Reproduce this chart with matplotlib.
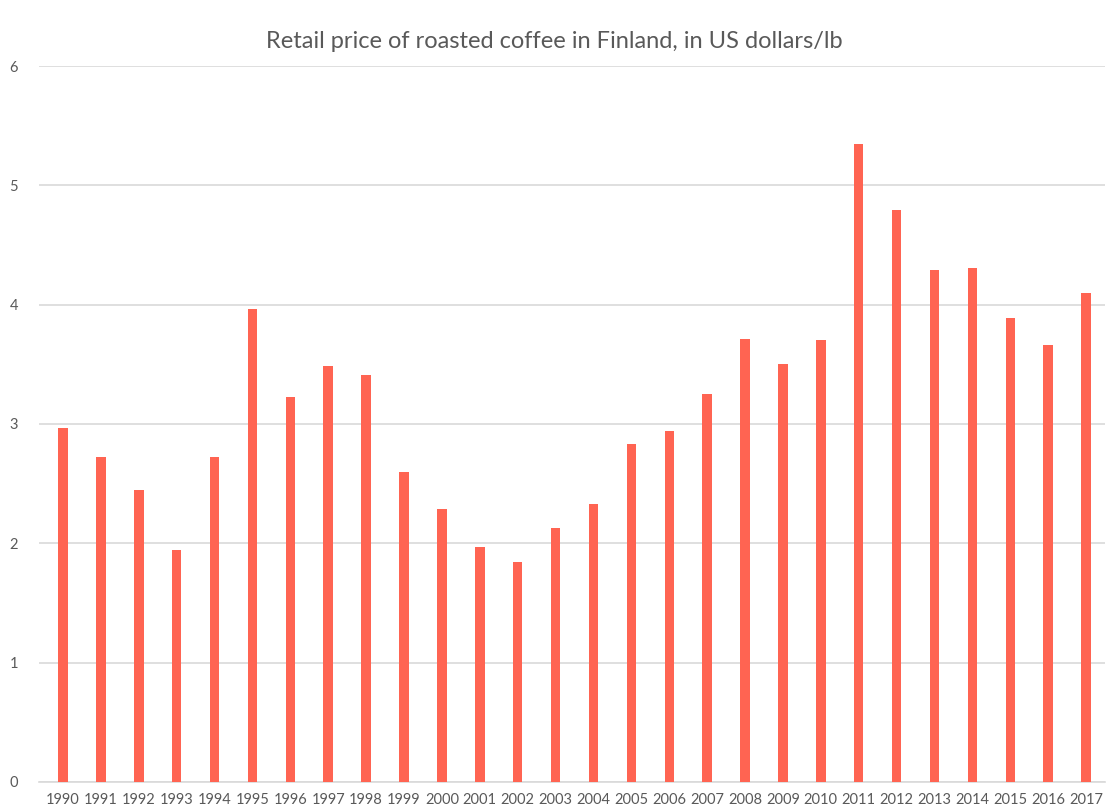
import matplotlib
matplotlib.use("Agg")
import matplotlib.pyplot as plt

years = [str(y) for y in range(1990, 2018)]
prices = [2.97, 2.72, 2.45, 1.94, 2.72, 3.96, 3.23, 3.49, 3.41, 2.60,
          2.29, 1.97, 1.84, 2.13, 2.33, 2.83, 2.94, 3.25, 3.71, 3.50,
          3.70, 5.35, 4.79, 4.29, 4.31, 3.89, 3.66, 4.10]
yticks = [0, 1, 2, 3, 4, 5, 6]

plt.rcParams['font.family'] = ['Lato', 'DejaVu Sans']

fig = plt.figure(figsize=(11.09, 8.11), dpi=100)
ax = fig.add_axes([39 / 1109, 0.0358, (1105 - 39) / 1109, 0.8828])

x = range(len(years))
ax.bar(x, prices, width=0.25, color='#FF6452', zorder=3)

ax.set_xlim(-0.633, len(years) - 0.5)
ax.set_ylim(0, 6)
ax.set_yticks(yticks)
ax.set_xticks(list(x))
ax.set_xticklabels(years)
ax.grid(axis='y', color='#d9d9d9', linewidth=1.2, zorder=0)
for s in ['top', 'right', 'left']:
    ax.spines[s].set_visible(False)
ax.spines['bottom'].set_color('#d9d9d9')
ax.spines['bottom'].set_linewidth(1.2)
ax.tick_params(length=0, colors='#595959', labelsize=10.5)
ax.tick_params(axis='y', pad=15)
ax.tick_params(axis='x', pad=8)

fig.suptitle("Retail price of roasted coffee in Finland, in US dollars/lb",
             y=0.962, fontsize=17, color='#595959')

fig.savefig("out.png", dpi=100)
